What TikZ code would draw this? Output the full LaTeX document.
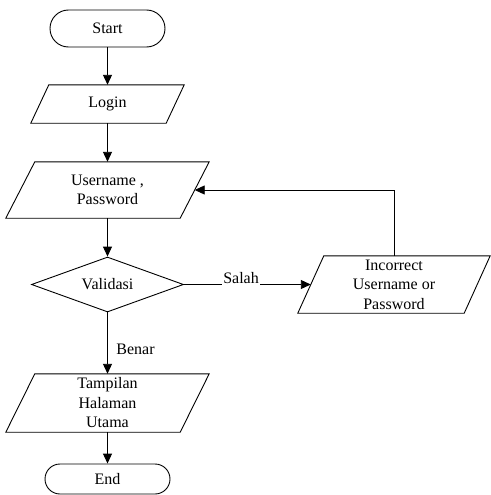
\documentclass[tikz,border=0pt]{standalone}
\usepackage{fontspec}
\setmainfont{Liberation Serif}
\usetikzlibrary{shapes.geometric,arrows.meta}
\tikzset{
  line/.style={draw=black, line width=0.9pt},
  arr/.style={line, -{Triangle[length=10pt,width=9pt]}},
  txt/.style={font=\fontsize{16}{19.5}\selectfont, align=center},
  term/.style={line, txt, rectangle, inner sep=0pt},
  iobox/.style={txt, rectangle, draw=none, inner sep=0pt},
  decision/.style={line, txt, diamond, inner sep=0pt, aspect=2.76,
    minimum width=152pt, minimum height=55pt},
  lbl/.style={font=\fontsize{16}{19}\selectfont, inner sep=1.5pt}
}
% parallelogram drawn around an invisible rectangle node: #1 node, #2 slant
\newcommand{\drawpara}[2]{%
  \draw[line] ([xshift=#2/2]#1.north west) -- ([xshift=#2/2]#1.north east)
    -- ([xshift=-#2/2]#1.south east) -- ([xshift=-#2/2]#1.south west) -- cycle;}
\begin{document}
\begin{tikzpicture}[x=1pt,y=-1pt]
  \useasboundingbox (0,0) rectangle (490,495);

  \node[term, minimum width=115pt, minimum height=37pt, rounded corners=18.5pt]
    (start) at (107.5,28.5) {Start};
  \node[iobox, minimum width=135pt, minimum height=38pt] (login) at (107.5,104) {Login};
  \node[iobox, minimum width=174pt, minimum height=56pt] (user) at (107.5,190)
    {Username ,\\Password};
  \node[decision] (valid) at (107.5,284.5) {Validasi};
  \node[iobox, minimum width=174pt, minimum height=58pt] (tamp) at (107.5,403)
    {Tampilan\\Halaman\\Utama};
  \node[term, minimum width=125pt, minimum height=30pt, rounded corners=15pt]
    (end) at (107.5,479) {End};
  \node[iobox, minimum width=166pt, minimum height=57pt] (inc) at (394,284.5)
    {Incorrect\\Username or\\Password};

  \drawpara{login}{18}
  \drawpara{user}{29}
  \drawpara{tamp}{29}
  \drawpara{inc}{26}

  \draw[arr] (start) -- (login);
  \draw[arr] (login) -- (user);
  \draw[arr] (user) -- (valid);
  \draw[arr] (valid) -- node[lbl, pos=0.6, anchor=west, xshift=7pt] {Benar} (tamp);
  \draw[arr] (tamp) -- (end);
  \draw[arr] (valid.east) -- node[lbl, pos=0.45, yshift=6pt, inner ysep=2.5pt, fill=white] {Salah} (inc.west);
  \draw[arr] (inc.north) |- (user.east);
\end{tikzpicture}
\end{document}
